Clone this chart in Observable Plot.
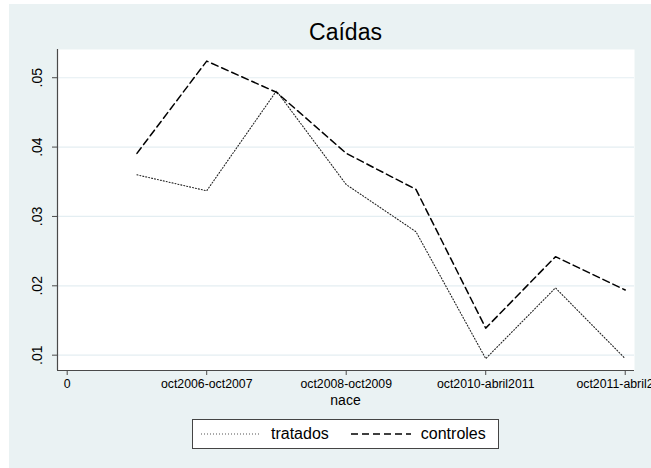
<!DOCTYPE html>
<html><head><meta charset="utf-8">
<script src="https://cdn.jsdelivr.net/npm/d3@7"></script>
<script src="https://cdn.jsdelivr.net/npm/@observablehq/plot@0.6"></script>
<style>
body{margin:0;background:#fff;}
#wrap{position:relative;width:651px;height:468px;overflow:hidden;font-family:Arial,"Liberation Sans",sans-serif;color:#000;}
#bg{position:absolute;left:9px;top:4px;right:0;bottom:0;background:#eaf2f3;}
#title{position:absolute;left:57px;width:577px;top:18px;text-align:center;font-size:23px;line-height:28px;}
#chart{position:absolute;left:0;top:0;}
#xtitle{position:absolute;left:57px;width:577px;top:391px;text-align:center;font-size:14px;line-height:18px;}
#legend{position:absolute;left:192px;top:419px;width:305px;height:28px;background:#fff;border:1px solid #444;display:flex;align-items:center;font-size:16px;}
#legend .item{display:flex;align-items:center;}
</style>
</head><body>
<div id="wrap">
  <div id="bg"></div>
  <div id="title">Caídas</div>
  <div id="chart"></div>
  <div id="xtitle">nace</div>
  <div id="legend"></div>
</div>
<script>
const periods = [1, 2, 3, 4, 5, 6, 7, 8];
const tratados = [0.0360, 0.0337, 0.0481, 0.0346, 0.0278, 0.0095, 0.0197, 0.0095];
const controles = [0.0391, 0.0524, 0.0479, 0.0391, 0.0339, 0.0139, 0.0242, 0.0194];
const xTickValues = [0, 2, 4, 6, 8];
const xTickLabels = ["0", "oct2006-oct2007", "oct2008-oct2009", "oct2010-abril2011", "oct2011-abril2012"];
const yTicks = [0.01, 0.02, 0.03, 0.04, 0.05];
const seriesNames = ["tratados", "controles"];

const xDomain = [-0.139, 8.133];
const yDomain = [0.00779, 0.05407];

const rows = [];
periods.forEach((p, i) => {
  rows.push({x: p, y: tratados[i], s: "tratados"});
  rows.push({x: p, y: controles[i], s: "controles"});
});

const fmtY = d => d3.format(".2f")(d).replace(/^0/, "");
const xLabel = d => xTickLabels[xTickValues.indexOf(d)];

const axisColor = "#4a4a4a";

const plot = Plot.plot({
  width: 651,
  height: 410,
  marginLeft: 57,
  marginRight: 17,
  marginTop: 49,
  marginBottom: 40,
  style: {background: "transparent", fontFamily: "Arial, 'Liberation Sans', sans-serif", color: "#000"},
  x: {domain: xDomain, axis: null},
  y: {domain: yDomain, axis: null},
  marks: [
    Plot.frame({fill: "#fff", stroke: "none"}),
    Plot.gridY(yTicks, {stroke: "#e4eef2", strokeOpacity: 1, strokeWidth: 1.2}),
    Plot.ruleY([yDomain[0]], {stroke: axisColor, strokeWidth: 1.2}),
    Plot.ruleX([xDomain[0]], {stroke: axisColor, strokeWidth: 1.2}),
    Plot.axisX({ticks: xTickValues, tickFormat: xLabel, tickSize: 5, tickPadding: 4, fontSize: 12.3, stroke: axisColor, color: "#000", label: null}),
    Plot.axisY({ticks: yTicks, tickFormat: () => "", tickSize: 5, stroke: axisColor, label: null}),
    Plot.text(yTicks, {y: d => d, frameAnchor: "left", dx: -20, rotate: -90, text: fmtY, textAnchor: "middle", fontSize: 14, fill: "#000"}),
    Plot.line(rows.filter(d => d.s === "tratados"), {x: "x", y: "y", stroke: "#222", strokeWidth: 1.1, strokeDasharray: "1,2"}),
    Plot.line(rows.filter(d => d.s === "controles"), {x: "x", y: "y", stroke: "#000", strokeWidth: 1.5, strokeDasharray: "7,4"})
  ]
});
document.getElementById("chart").appendChild(plot);

// legend
const styles = {
  tratados: {dash: "1,2", w: 1.1, color: "#555"},
  controles: {dash: "7,4", w: 1.5, color: "#000"}
};
const legend = document.getElementById("legend");
seriesNames.forEach((name, i) => {
  const item = document.createElement("div");
  item.className = "item";
  item.style.marginLeft = i === 0 ? "8px" : "22px";
  const st = styles[name];
  item.innerHTML = `<svg width="60" height="10" style="display:block"><line x1="0" y1="5" x2="60" y2="5" stroke="${st.color}" stroke-width="${st.w}" stroke-dasharray="${st.dash}"/></svg><span style="margin-left:10px">${name}</span>`;
  legend.appendChild(item);
});
</script>
</body></html>
